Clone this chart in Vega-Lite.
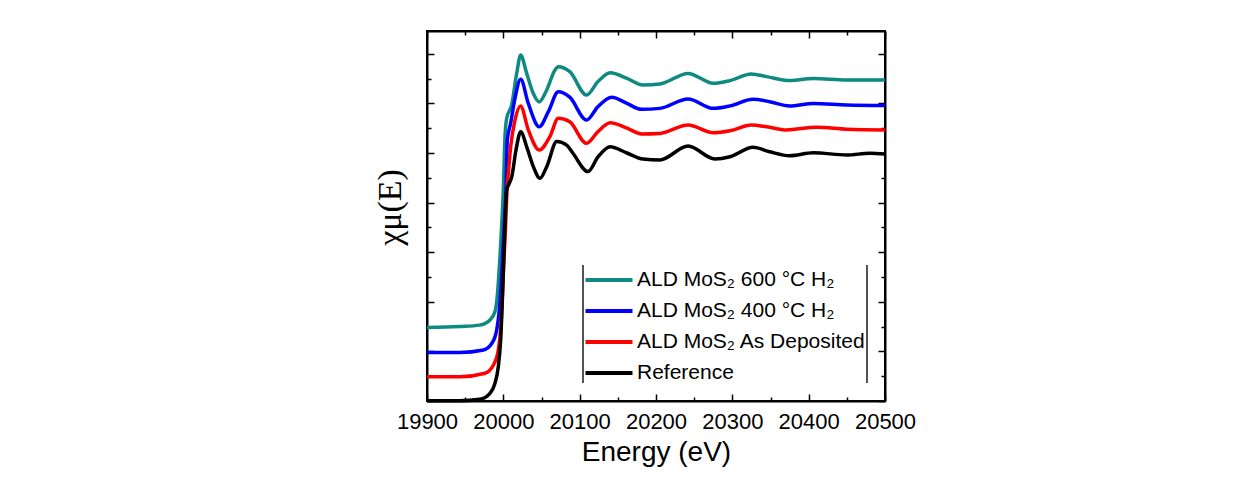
{
  "$schema": "https://vega.github.io/schema/vega-lite/v6.json",
  "autosize": {"type": "none"},
  "width": 458,
  "height": 370,
  "padding": {"left": 427, "top": 31, "right": 363, "bottom": 79},
  "background": "white",
  "config": {"view": {"stroke": "black", "strokeWidth": 2}, "font": "Liberation Sans"},
  "datasets": {
    "names": [
      {"code": "T", "name": "ALD MoS₂ 600 °C H₂"},
      {"code": "B", "name": "ALD MoS₂ 400 °C H₂"},
      {"code": "R", "name": "ALD MoS₂ As Deposited"},
      {"code": "K", "name": "Reference"}
    ],
    "spectra": [
      {"code":"T","E":19900,"mu":0.296},{"code":"T","E":19943,"mu":0.300},{"code":"T","E":19969,"mu":0.306},{"code":"T","E":19982.5,"mu":0.327},{"code":"T","E":19989,"mu":0.360},{"code":"T","E":19992,"mu":0.421},{"code":"T","E":19995.6,"mu":0.582},{"code":"T","E":19998,"mu":0.717},{"code":"T","E":20000,"mu":0.851},{"code":"T","E":20002.2,"mu":1.066},{"code":"T","E":20004.4,"mu":1.140},{"code":"T","E":20011,"mu":1.194},{"code":"T","E":20017.5,"mu":1.321},{"code":"T","E":20022.7,"mu":1.395},{"code":"T","E":20030.6,"mu":1.321},{"code":"T","E":20039.3,"mu":1.240},{"code":"T","E":20047,"mu":1.206},{"code":"T","E":20056.8,"mu":1.254},{"code":"T","E":20067.7,"mu":1.335},{"code":"T","E":20072,"mu":1.348},{"code":"T","E":20087,"mu":1.328},{"code":"T","E":20109,"mu":1.234},{"code":"T","E":20124,"mu":1.288},{"code":"T","E":20140,"mu":1.324},{"code":"T","E":20162,"mu":1.301},{"code":"T","E":20183,"mu":1.274},{"code":"T","E":20205,"mu":1.278},{"code":"T","E":20242,"mu":1.321},{"code":"T","E":20275,"mu":1.281},{"code":"T","E":20297,"mu":1.292},{"code":"T","E":20325,"mu":1.319},{"code":"T","E":20345,"mu":1.308},{"code":"T","E":20375,"mu":1.292},{"code":"T","E":20406,"mu":1.300},{"code":"T","E":20450,"mu":1.294},{"code":"T","E":20500,"mu":1.294},
      {"code":"B","E":19900,"mu":0.196},{"code":"B","E":19943,"mu":0.196},{"code":"B","E":19974,"mu":0.206},{"code":"B","E":19985,"mu":0.233},{"code":"B","E":19991.3,"mu":0.286},{"code":"B","E":19994.7,"mu":0.367},{"code":"B","E":19998,"mu":0.515},{"code":"B","E":20001.3,"mu":0.717},{"code":"B","E":20003.5,"mu":0.851},{"code":"B","E":20005.2,"mu":1.052},{"code":"B","E":20009.6,"mu":1.120},{"code":"B","E":20015.3,"mu":1.221},{"code":"B","E":20022.7,"mu":1.297},{"code":"B","E":20032.7,"mu":1.200},{"code":"B","E":20047,"mu":1.106},{"code":"B","E":20059,"mu":1.167},{"code":"B","E":20072,"mu":1.247},{"code":"B","E":20087,"mu":1.225},{"code":"B","E":20109,"mu":1.133},{"code":"B","E":20124,"mu":1.187},{"code":"B","E":20142,"mu":1.225},{"code":"B","E":20162,"mu":1.200},{"code":"B","E":20181,"mu":1.176},{"code":"B","E":20205,"mu":1.180},{"code":"B","E":20242,"mu":1.218},{"code":"B","E":20275,"mu":1.180},{"code":"B","E":20297,"mu":1.190},{"code":"B","E":20327,"mu":1.217},{"code":"B","E":20349,"mu":1.207},{"code":"B","E":20375,"mu":1.190},{"code":"B","E":20406,"mu":1.200},{"code":"B","E":20450,"mu":1.194},{"code":"B","E":20500,"mu":1.192},
      {"code":"R","E":19900,"mu":0.098},{"code":"R","E":19943,"mu":0.098},{"code":"R","E":19976,"mu":0.112},{"code":"R","E":19987,"mu":0.145},{"code":"R","E":19993.4,"mu":0.206},{"code":"R","E":19997,"mu":0.313},{"code":"R","E":20000,"mu":0.515},{"code":"R","E":20003.1,"mu":0.717},{"code":"R","E":20004.8,"mu":0.851},{"code":"R","E":20006.5,"mu":0.918},{"code":"R","E":20009.6,"mu":1.025},{"code":"R","E":20015.3,"mu":1.133},{"code":"R","E":20022.5,"mu":1.190},{"code":"R","E":20032.7,"mu":1.093},{"code":"R","E":20047,"mu":1.012},{"code":"R","E":20061,"mu":1.066},{"code":"R","E":20072,"mu":1.140},{"code":"R","E":20087,"mu":1.126},{"code":"R","E":20109,"mu":1.039},{"code":"R","E":20124,"mu":1.086},{"code":"R","E":20140,"mu":1.122},{"code":"R","E":20162,"mu":1.100},{"code":"R","E":20181,"mu":1.077},{"code":"R","E":20205,"mu":1.079},{"code":"R","E":20242,"mu":1.113},{"code":"R","E":20275,"mu":1.082},{"code":"R","E":20297,"mu":1.090},{"code":"R","E":20325,"mu":1.113},{"code":"R","E":20345,"mu":1.106},{"code":"R","E":20371,"mu":1.093},{"code":"R","E":20410,"mu":1.104},{"code":"R","E":20450,"mu":1.096},{"code":"R","E":20500,"mu":1.093},
      {"code":"K","E":19900,"mu":0.001},{"code":"K","E":19943,"mu":0.001},{"code":"K","E":19969,"mu":0.007},{"code":"K","E":19982.5,"mu":0.031},{"code":"K","E":19989,"mu":0.071},{"code":"K","E":19993.4,"mu":0.138},{"code":"K","E":19996.5,"mu":0.246},{"code":"K","E":19999.2,"mu":0.448},{"code":"K","E":20002.2,"mu":0.717},{"code":"K","E":20004.4,"mu":0.851},{"code":"K","E":20007.8,"mu":0.878},{"code":"K","E":20011,"mu":0.904},{"code":"K","E":20016.6,"mu":1.012},{"code":"K","E":20022.7,"mu":1.086},{"code":"K","E":20030.6,"mu":1.025},{"code":"K","E":20039.3,"mu":0.945},{"code":"K","E":20048,"mu":0.898},{"code":"K","E":20056.8,"mu":0.945},{"code":"K","E":20070,"mu":1.046},{"code":"K","E":20083,"mu":1.032},{"code":"K","E":20091,"mu":1.000},{"code":"K","E":20111,"mu":0.925},{"code":"K","E":20124,"mu":0.984},{"code":"K","E":20140,"mu":1.025},{"code":"K","E":20162,"mu":1.000},{"code":"K","E":20183,"mu":0.976},{"code":"K","E":20205,"mu":0.972},{"code":"K","E":20242,"mu":1.028},{"code":"K","E":20277,"mu":0.976},{"code":"K","E":20297,"mu":0.985},{"code":"K","E":20327,"mu":1.023},{"code":"K","E":20349,"mu":1.005},{"code":"K","E":20375,"mu":0.989},{"code":"K","E":20406,"mu":1.001},{"code":"K","E":20450,"mu":0.992},{"code":"K","E":20480,"mu":0.999},{"code":"K","E":20500,"mu":0.996}
    ]
  },
  "data": {"name": "spectra"},
  "transform": [
    {"lookup": "code", "from": {"data": {"name": "names"}, "key": "code", "fields": ["name"]}}
  ],
  "layer": [
    {
      "mark": {"type": "line", "strokeWidth": 3.5, "interpolate": "monotone"},
      "encoding": {
        "x": {
          "field": "E", "type": "quantitative",
          "scale": {"domain": [19900, 20500], "nice": false, "zero": false},
          "axis": {
            "orient": "bottom", "title": "Energy (eV)",
            "values": [19900,19950,20000,20050,20100,20150,20200,20250,20300,20350,20400,20450,20500],
            "format": "d",
            "labelExpr": "datum.value % 100 === 0 ? datum.label : ''",
            "tickSize": {"condition": {"test": "datum.value % 100 === 0", "value": -7}, "value": -4},
            "tickColor": "black", "tickWidth": 1.5,
            "domainColor": "black", "domainWidth": 2,
            "labelFont": "Liberation Sans", "labelFontSize": 22, "labelColor": "black",
            "labelPadding": 17, "labelOverlap": false, "labelFlush": false,
            "titleFont": "Liberation Sans", "titleFontSize": 28, "titleFontWeight": "normal",
            "titleColor": "black", "titlePadding": 3, "grid": false
          }
        },
        "y": {
          "field": "mu", "type": "quantitative",
          "scale": {"domain": [0, 1.492], "nice": false, "zero": false},
          "axis": {
            "orient": "left", "title": "χμ(E)",
            "values": [0,0.1,0.2,0.3,0.4,0.5,0.6,0.7,0.8,0.9,1.0,1.1,1.2,1.3,1.4],
            "labels": false,
            "tickSize": {"condition": {"test": "round(datum.value*10) % 2 === 0", "value": -7}, "value": -4},
            "tickColor": "black", "tickWidth": 1.5,
            "domainColor": "black", "domainWidth": 2,
            "titleFont": "Liberation Serif", "titleFontSize": 34, "titleFontWeight": "normal",
            "titleColor": "black", "titlePadding": 19, "titleY": 176, "grid": false
          }
        },
        "color": {
          "field": "name", "type": "nominal",
          "scale": {
            "domain": ["ALD MoS₂ 600 °C H₂", "ALD MoS₂ 400 °C H₂", "ALD MoS₂ As Deposited", "Reference"],
            "range": ["#0e8a82", "#0000ff", "#ff0000", "#000000"]
          },
          "legend": {
            "orient": "none", "legendX": 168, "legendY": 235, "title": null,
            "symbolType": "M-2,0H2", "symbolSize": 552, "symbolStrokeWidth": 4,
            "labelFont": "Liberation Sans", "labelFontSize": 21, "labelColor": "black",
            "rowPadding": 7, "labelOffset": 14, "padding": 0, "labelLimit": 400
          }
        }
      }
    },
    {
      "mark": {"type": "line", "opacity": 0},
      "encoding": {
        "detail": {"field": "code"},
        "x": {
          "field": "E", "type": "quantitative",
          "axis": {
            "orient": "top", "title": null, "labels": false,
            "values": [19900,19950,20000,20050,20100,20150,20200,20250,20300,20350,20400,20450,20500],
            "tickSize": {"condition": {"test": "datum.value % 100 === 0", "value": -7}, "value": -4},
            "tickColor": "black", "tickWidth": 1.5,
            "domainColor": "black", "domainWidth": 2, "grid": false
          }
        },
        "y": {
          "field": "mu", "type": "quantitative",
          "axis": {
            "orient": "right", "title": null, "labels": false,
            "values": [0,0.1,0.2,0.3,0.4,0.5,0.6,0.7,0.8,0.9,1.0,1.1,1.2,1.3,1.4],
            "tickSize": {"condition": {"test": "round(datum.value*10) % 2 === 0", "value": -7}, "value": -4},
            "tickColor": "black", "tickWidth": 1.5,
            "domainColor": "black", "domainWidth": 2, "grid": false
          }
        }
      }
    },
    {
      "mark": {"type": "rule", "color": "#555555", "strokeWidth": 1},
      "encoding": {
        "x": {"datum": 20104.8, "type": "quantitative", "axis": null},
        "y": {"datum": 0.073, "type": "quantitative", "axis": null},
        "y2": {"datum": 0.548}
      }
    },
    {
      "mark": {"type": "rule", "color": "#555555", "strokeWidth": 1},
      "encoding": {
        "x": {"datum": 20476.8, "type": "quantitative", "axis": null},
        "y": {"datum": 0.073, "type": "quantitative", "axis": null},
        "y2": {"datum": 0.548}
      }
    }
  ],
  "resolve": {"axis": {"x": "independent", "y": "independent"}}
}
